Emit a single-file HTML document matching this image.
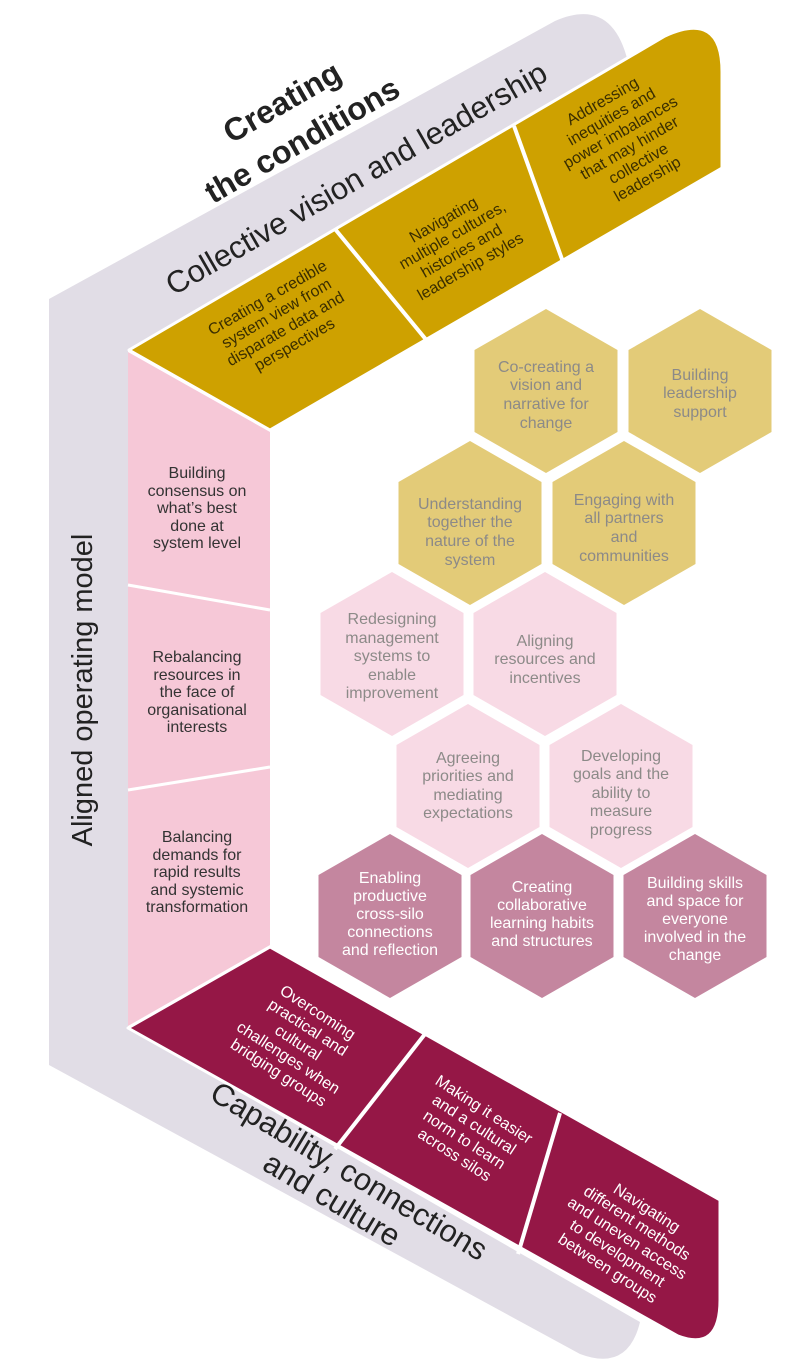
<!DOCTYPE html>
<html><head><meta charset="utf-8"><style>
html,body{margin:0;padding:0;background:#fff;}
svg{display:block;font-family:"Liberation Sans",sans-serif;}
</style></head><body>
<svg width="800" height="1364" viewBox="0 0 800 1364" xmlns="http://www.w3.org/2000/svg">
<path d="M49,299 L555,21 Q612,-4 628,62 L128,350 L128,1028 L640,1322 Q628,1372 580,1354 L49,1065 Z" fill="#e1dde6"/>
<path d="M129,350 L665,36 Q722,10 722,72 L722,168 L270,430 Z" fill="#cea100" stroke="#fff" stroke-width="3" stroke-linejoin="round"/>
<line x1="335" y1="229" x2="428" y2="342" stroke="#fff" stroke-width="4"/>
<line x1="514" y1="126" x2="563" y2="262" stroke="#fff" stroke-width="4"/>
<path d="M128,352 L270,432 L270,945 L128,1026 Z" fill="#f6c8d7"/>
<line x1="128" y1="585" x2="270" y2="610" stroke="#fff" stroke-width="3"/>
<line x1="128" y1="790" x2="270" y2="767" stroke="#fff" stroke-width="3"/>
<path d="M128,1028 L270,947 L720,1200 L720,1300 Q720,1352 678,1336 Z" fill="#951746" stroke="#fff" stroke-width="3" stroke-linejoin="round"/>
<line x1="425" y1="1034" x2="335" y2="1149" stroke="#fff" stroke-width="4"/>
<line x1="560" y1="1113" x2="518" y2="1254" stroke="#fff" stroke-width="4"/>

<g fill="#222" text-anchor="middle">
<text transform="translate(282,102) rotate(-30)" font-size="32" font-weight="bold" dy="11">Creating</text>
<text transform="translate(302,140) rotate(-30)" font-size="32" font-weight="bold" dy="11">the conditions</text>
<text transform="translate(356,178) rotate(-30)" font-size="31" dy="11">Collective vision and leadership</text>
<text transform="translate(82,690) rotate(-90)" font-size="29" dy="10">Aligned operating model</text>
<g transform="translate(340,1186) rotate(31)" font-size="31">
<text y="-7">Capability, connections</text>
<text y="26">and culture</text>
</g>
</g>

<g fill="#3a2e00" font-size="16" text-anchor="middle">
<g transform="translate(282,323) rotate(-30)">
<text y="-24">Creating a credible</text><text y="-6">system view from</text><text y="12">disparate data and</text><text y="30">perspectives</text>
</g>
<g transform="translate(458,245) rotate(-30)">
<text y="-24">Navigating</text><text y="-6">multiple cultures,</text><text y="12">histories and</text><text y="30">leadership styles</text>
</g>
<g transform="translate(626,142) rotate(-30)">
<text y="-42">Addressing</text><text y="-24">inequities and</text><text y="-6">power imbalances</text><text y="12">that may hinder</text><text y="30">collective</text><text y="48">leadership</text>
</g>
</g>

<g fill="#333" font-size="16" text-anchor="middle">
<text x="197" y="478">Building</text><text x="197" y="496">consensus on</text><text x="197" y="513">what’s best</text><text x="197" y="531">done at</text><text x="197" y="548">system level</text>
<text x="197" y="662">Rebalancing</text><text x="197" y="680">resources in</text><text x="197" y="697">the face of</text><text x="197" y="715">organisational</text><text x="197" y="732">interests</text>
<text x="197" y="842">Balancing</text><text x="197" y="860">demands for</text><text x="197" y="877">rapid results</text><text x="197" y="895">and systemic</text><text x="197" y="912">transformation</text>
</g>

<g fill="#fff" font-size="16" text-anchor="middle">
<g transform="translate(292,1052) rotate(33)">
<text y="-42">Overcoming</text><text y="-24">practical and</text><text y="-6">cultural</text><text y="12">challenges when</text><text y="30">bridging groups</text>
</g>
<g transform="translate(468,1134) rotate(33)">
<text y="-24">Making it easier</text><text y="-6">and a cultural</text><text y="12">norm to learn</text><text y="30">across silos</text>
</g>
<g transform="translate(626,1240) rotate(33)">
<text y="-33">Navigating</text><text y="-15">different methods</text><text y="3">and uneven access</text><text y="21">to development</text><text y="39">between groups</text>
</g>
</g>

<defs>
<path id="hx" d="M0,-82 L71.5,-41 L71.5,41 L0,82 L-71.5,41 L-71.5,-41 Z"/>
</defs>
<g>
<use href="#hx" x="546" y="391" fill="#e3cb78"/>
<use href="#hx" x="700" y="391" fill="#e3cb78"/>
<use href="#hx" x="470" y="523" fill="#e3cb78"/>
<use href="#hx" x="624" y="523" fill="#e3cb78"/>
<use href="#hx" x="392" y="654" fill="#f8dae5"/>
<use href="#hx" x="545" y="654" fill="#f8dae5"/>
<use href="#hx" x="468" y="786" fill="#f8dae5"/>
<use href="#hx" x="621" y="786" fill="#f8dae5"/>
<use href="#hx" x="390" y="916" fill="#c4869f"/>
<use href="#hx" x="542" y="916" fill="#c4869f"/>
<use href="#hx" x="695" y="916" fill="#c4869f"/>
</g>
<g fill="#8c8a88" font-size="16" text-anchor="middle">
<text x="546" y="372">Co-creating a</text><text x="546" y="390">vision and</text><text x="546" y="409">narrative for</text><text x="546" y="428">change</text>
<text x="700" y="380">Building</text><text x="700" y="398">leadership</text><text x="700" y="417">support</text>
<text x="470" y="509">Understanding</text><text x="470" y="527">together the</text><text x="470" y="546">nature of the</text><text x="470" y="565">system</text>
<text x="624" y="505">Engaging with</text><text x="624" y="523">all partners</text><text x="624" y="542">and</text><text x="624" y="561">communities</text>
<text x="392" y="624">Redesigning</text><text x="392" y="643">management</text><text x="392" y="661">systems to</text><text x="392" y="680">enable</text><text x="392" y="698">improvement</text>
<text x="545" y="646">Aligning</text><text x="545" y="664">resources and</text><text x="545" y="683">incentives</text>
<text x="468" y="763">Agreeing</text><text x="468" y="781">priorities and</text><text x="468" y="800">mediating</text><text x="468" y="818">expectations</text>
<text x="621" y="761">Developing</text><text x="621" y="779">goals and the</text><text x="621" y="798">ability to</text><text x="621" y="816">measure</text><text x="621" y="835">progress</text>
</g>
<g fill="#fff" font-size="16" text-anchor="middle">
<text x="390" y="883">Enabling</text><text x="390" y="901">productive</text><text x="390" y="919">cross-silo</text><text x="390" y="937">connections</text><text x="390" y="955">and reflection</text>
<text x="542" y="892">Creating</text><text x="542" y="910">collaborative</text><text x="542" y="928">learning habits</text><text x="542" y="946">and structures</text>
<text x="695" y="888">Building skills</text><text x="695" y="906">and space for</text><text x="695" y="924">everyone</text><text x="695" y="942">involved in the</text><text x="695" y="960">change</text>
</g>
</svg>
</body></html>
